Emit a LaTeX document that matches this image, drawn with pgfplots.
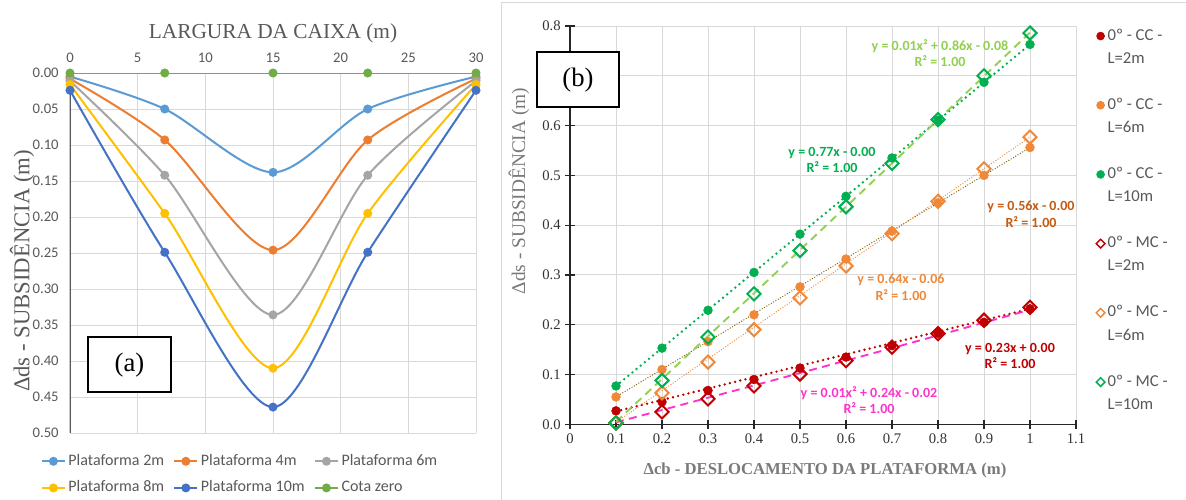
\documentclass[border=0pt]{standalone}
\usepackage{fontspec}
\setmainfont{Liberation Serif}
\newfontfamily\calibri{Carlito}
\usepackage{pgfplots}
\pgfplotsset{compat=1.18}

\definecolor{pa}{HTML}{5B9BD5}
\definecolor{pb}{HTML}{ED7D31}
\definecolor{pc}{HTML}{A5A5A5}
\definecolor{pd}{HTML}{FFC000}
\definecolor{pe}{HTML}{4472C4}
\definecolor{pz}{HTML}{70AD47}
\definecolor{txtgray}{HTML}{595959}
\definecolor{lblgray}{HTML}{7A7A7A}
\definecolor{gridc}{HTML}{D9D9D9}
\definecolor{cred}{HTML}{C00000}
\definecolor{corange}{HTML}{F08838}
\definecolor{cgreen}{HTML}{00B050}
\definecolor{clgreen}{HTML}{92D050}
\definecolor{cmag}{HTML}{FF33CC}
\definecolor{colive}{HTML}{7F6000}
\definecolor{cdorange}{HTML}{C55A11}

\begin{document}
\begin{tikzpicture}
\path[use as bounding box, fill=white] (0,0) rectangle (889.5pt,375pt);
\draw[gridc, line width=0.75pt] (375.75pt,0pt) -- (375.75pt,372.75pt) -- (889.5pt,372.75pt);

% ---------------- panel (a) ----------------
\begin{axis}[
  at={(52.5pt,50.25pt)}, anchor=south west,
  scale only axis, width=304.5pt, height=270pt,
  xmin=0, xmax=30, ymin=0, ymax=0.5, y dir=reverse,
  xtick={0,5,10,15,20,25,30},
  ytick={0,0.05,0.1,0.15,0.2,0.25,0.3,0.35,0.4,0.45,0.5},
  xticklabel pos=upper,
  grid=major, grid style={draw=gridc, line width=0.75pt},
  axis line style={draw=none},
  major tick length=0pt,
  tick label style={font=\calibri\fontsize{11}{13}\selectfont, text=txtgray},
  /pgf/number format/assume math mode=true,
  yticklabel style={xshift=-5pt, /pgf/number format/.cd, fixed, fixed zerofill, precision=2},
  xticklabel style={yshift=4pt},
  legend columns=3,
  legend cell align=left,
  legend style={at={(-0.072,-0.05)}, anchor=north west, draw=none, fill=none, inner sep=0pt,
    font=\calibri\fontsize{12}{14}\selectfont, text=txtgray,
    nodes={inner sep=2pt, text height=8.5pt, text depth=2.5pt},
    /tikz/every even column/.append style={column sep=5pt}, row sep=5pt},
  every axis plot/.append style={line width=1.5pt, mark=*, mark size=2.6pt, smooth},
]
\draw[txtgray, line width=1pt] (axis cs:0,0.02) -- (axis cs:0,0.5);
\addplot[color=pa] coordinates {(0,0.005) (7,0.050) (15,0.138) (22,0.050) (30,0.005)};
\addlegendentry{Plataforma 2m}
\addplot[color=pb] coordinates {(0,0.008) (7,0.093) (15,0.246) (22,0.093) (30,0.008)};
\addlegendentry{Plataforma 4m}
\addplot[color=pc] coordinates {(0,0.011) (7,0.142) (15,0.336) (22,0.142) (30,0.011)};
\addlegendentry{Plataforma 6m}
\addplot[color=pd] coordinates {(0,0.016) (7,0.195) (15,0.410) (22,0.195) (30,0.016)};
\addlegendentry{Plataforma 8m}
\addplot[color=pe] coordinates {(0,0.024) (7,0.249) (15,0.464) (22,0.249) (30,0.024)};
\addlegendentry{Plataforma 10m}
\addplot[color=pz] coordinates {(0,0) (7,0) (15,0) (22,0) (30,0)};
\addlegendentry{Cota zero}
\end{axis}

% ---------------- panel (b) ----------------
\begin{axis}[
  at={(427.5pt,56.775pt)}, anchor=south west,
  scale only axis, width=379.5pt, height=298.7pt,
  xmin=0, xmax=1.1, ymin=0, ymax=0.8,
  xtick={0,0.1,0.2,0.3,0.4,0.5,0.6,0.7,0.8,0.9,1,1.1},
  ytick={0,0.1,0.2,0.3,0.4,0.5,0.6,0.7,0.8},
  axis x line*=bottom, axis y line*=left,
  axis line style={-, draw=black!85, line width=0.9pt},
  grid=major, grid style={draw=gridc, line width=0.75pt},
  tick align=center, major tick length=7pt,
  tick style={black!85, line width=0.9pt},
  tick label style={font=\fontsize{11}{13}\selectfont, text=black!80},
  /pgf/number format/assume math mode=true,
  xticklabel style={/pgf/number format/.cd, fixed, precision=1},
  yticklabel style={/pgf/number format/.cd, fixed, fixed zerofill, precision=1},
  legend cell align=left,
  legend image code/.code={\draw[#1] plot coordinates {(0pt,0pt)};},
  legend style={at={(1.0395,1.002)}, anchor=north west, draw=none, fill=none, inner sep=0pt,
    font=\calibri\fontsize{12.5}{14}\selectfont, text=txtgray,
    nodes={inner sep=2pt, text height=9pt, text depth=2.8pt}, row sep=1.5pt},
]
% data: filled circles (CC) and open diamonds (MC)
\addplot[only marks, mark=*, mark size=3.3pt, color=cred, forget plot] coordinates {(0.1,0.027) (0.2,0.045) (0.3,0.068) (0.4,0.090) (0.5,0.113) (0.6,0.135) (0.7,0.158) (0.8,0.183) (0.9,0.205) (1.0,0.232)};
\addplot[only marks, mark=*, mark size=3.3pt, color=corange, forget plot] coordinates {(0.1,0.055) (0.2,0.110) (0.3,0.166) (0.4,0.220) (0.5,0.276) (0.6,0.332) (0.7,0.388) (0.8,0.445) (0.9,0.500) (1.0,0.556)};
\addplot[only marks, mark=*, mark size=3.3pt, color=cgreen, forget plot] coordinates {(0.1,0.077) (0.2,0.153) (0.3,0.229) (0.4,0.305) (0.5,0.382) (0.6,0.458) (0.7,0.535) (0.8,0.611) (0.9,0.687) (1.0,0.763)};
\addplot[only marks, mark=square, mark size=3.5pt, mark options={rotate=45, line width=1.5pt}, color=cred, forget plot] coordinates {(0.1,0.003) (0.2,0.025) (0.3,0.051) (0.4,0.077) (0.5,0.101) (0.6,0.128) (0.7,0.155) (0.8,0.182) (0.9,0.209) (1.0,0.235)};
\addplot[only marks, mark=square, mark size=3.5pt, mark options={rotate=45, line width=1.5pt}, color=corange, forget plot] coordinates {(0.1,0.003) (0.2,0.063) (0.3,0.125) (0.4,0.190) (0.5,0.254) (0.6,0.318) (0.7,0.383) (0.8,0.448) (0.9,0.513) (1.0,0.577)};
\addplot[only marks, mark=square, mark size=3.5pt, mark options={rotate=45, line width=1.5pt}, color=cgreen, forget plot] coordinates {(0.1,0.003) (0.2,0.088) (0.3,0.175) (0.4,0.262) (0.5,0.349) (0.6,0.437) (0.7,0.524) (0.8,0.612) (0.9,0.700) (1.0,0.786)};
% trendlines
\addplot[no marks, color=cred, line width=2pt, line cap=round, dash pattern=on 0pt off 4pt, forget plot] coordinates {(0.1,0.026) (1.0,0.232)};
\addplot[no marks, color=colive, line width=1pt, line cap=round, dash pattern=on 0pt off 2pt, forget plot] coordinates {(0.1,0.055) (1.0,0.556)};
\addplot[no marks, color=cgreen, line width=2pt, line cap=round, dash pattern=on 0pt off 4pt, forget plot] coordinates {(0.1,0.077) (1.0,0.763)};
\addplot[no marks, color=cmag, line width=1.4pt, dash pattern=on 6pt off 4pt, forget plot] coordinates {(0.1,0.004) (0.4,0.078) (0.7,0.153) (1.0,0.230)};
\addplot[no marks, color=corange, line width=1pt, line cap=round, dash pattern=on 0pt off 2pt, forget plot] coordinates {(0.1,0.004) (1.0,0.577)};
\addplot[no marks, color=clgreen, line width=1.4pt, dash pattern=on 6pt off 4pt, forget plot] coordinates {(0.1,0.005) (0.4,0.263) (0.7,0.524) (1.0,0.787)};
% legend
\addlegendimage{only marks, mark=*, mark size=3pt, color=cred}
\addlegendentry{0º - CC -}
\addlegendimage{empty legend}\addlegendentry{L=2m}
\addlegendimage{empty legend}\addlegendentry{\mbox{}}
\addlegendimage{only marks, mark=*, mark size=3pt, color=corange}
\addlegendentry{0º - CC -}
\addlegendimage{empty legend}\addlegendentry{L=6m}
\addlegendimage{empty legend}\addlegendentry{\mbox{}}
\addlegendimage{only marks, mark=*, mark size=3pt, color=cgreen}
\addlegendentry{0º - CC -}
\addlegendimage{empty legend}\addlegendentry{L=10m}
\addlegendimage{empty legend}\addlegendentry{\mbox{}}
\addlegendimage{only marks, mark=square, mark size=2.3pt, mark options={rotate=45, line width=1.1pt}, color=cred}
\addlegendentry{0º - MC -}
\addlegendimage{empty legend}\addlegendentry{L=2m}
\addlegendimage{empty legend}\addlegendentry{\mbox{}}
\addlegendimage{only marks, mark=square, mark size=2.3pt, mark options={rotate=45, line width=1.1pt}, color=corange}
\addlegendentry{0º - MC -}
\addlegendimage{empty legend}\addlegendentry{L=6m}
\addlegendimage{empty legend}\addlegendentry{\mbox{}}
\addlegendimage{only marks, mark=square, mark size=2.3pt, mark options={rotate=45, line width=1.1pt}, color=cgreen}
\addlegendentry{0º - MC -}
\addlegendimage{empty legend}\addlegendentry{L=10m}
\end{axis}

% ---------------- labels, placed in pixel units of the reference ----------------
\begin{scope}[x=0.75pt, y=-0.75pt, yshift=375pt]
\node[font=\fontsize{16}{18}\selectfont, text=txtgray] at (273,33) {LARGURA DA CAIXA (m)};
\node[rotate=90, font=\fontsize{17}{20}\selectfont, text=txtgray] at (22,271) {Δds - SUBSIDÊNCIA (m)};
\draw[black, line width=1.1pt, fill=white] (88,337) rectangle (171,392);
\node[font=\fontsize{20}{22}\selectfont] at (129.5,365) {(a)};

\node[rotate=90, font=\fontsize{14.5}{16}\selectfont, text=lblgray] at (519,191) {Δds - SUBSIDÊNCIA (m)};
\node[font=\bfseries\fontsize{12.5}{14}\selectfont, text=lblgray] at (825,470) {Δcb - DESLOCAMENTO DA PLATAFORMA (m)};
\draw[black, line width=1.1pt, fill=white] (537,52) rectangle (619,107);
\node[font=\fontsize{20}{22}\selectfont] at (578,80) {(b)};

\begin{scope}[every node/.style={font=\calibri\bfseries\fontsize{10.5}{12.5}\selectfont, align=center}]
\node[text=clgreen] at (940,53) {y = 0.01x² + 0.86x - 0.08\\R² = 1.00};
\node[text=cgreen] at (832,160) {y = 0.77x - 0.00\\R² = 1.00};
\node[text=cdorange] at (1031,214) {y = 0.56x - 0.00\\R² = 1.00};
\node[text=corange] at (901,287) {y = 0.64x - 0.06\\R² = 1.00};
\node[text=cred] at (1010,356) {y = 0.23x + 0.00\\R² = 1.00};
\node[text=cmag] at (869,400) {y = 0.01x² + 0.24x - 0.02\\R² = 1.00};
\end{scope}
\end{scope}
\end{tikzpicture}
\end{document}
